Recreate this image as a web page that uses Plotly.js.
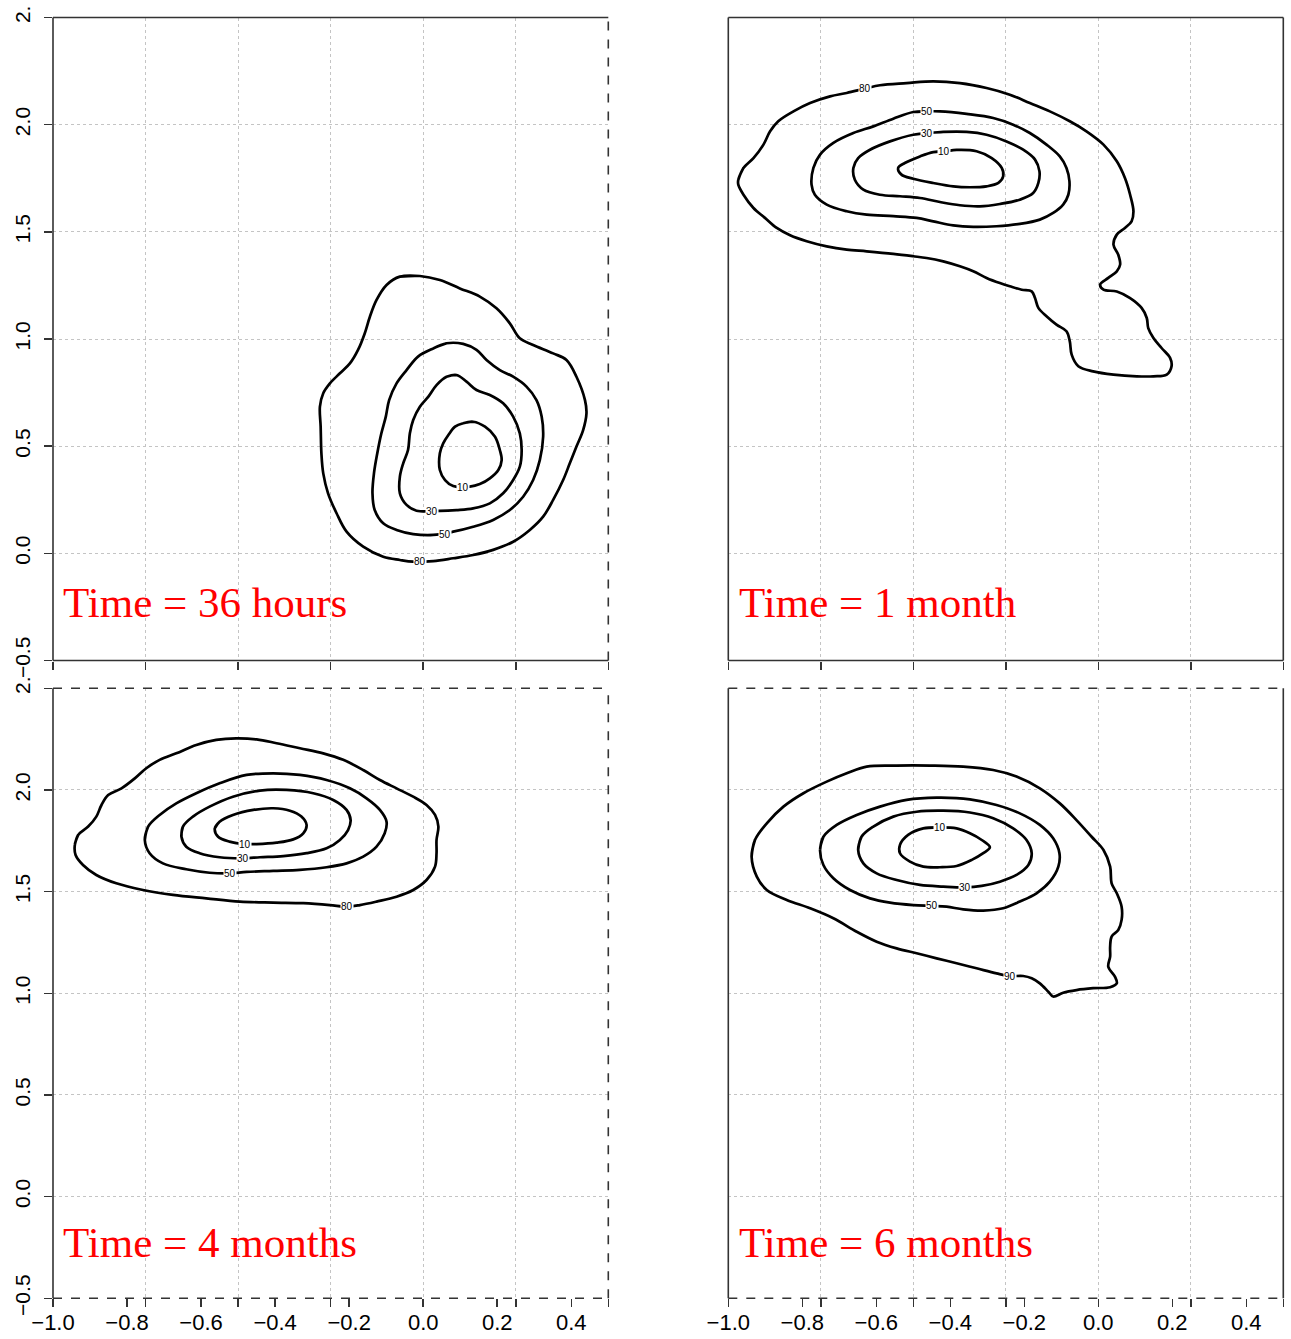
<!DOCTYPE html>
<html><head><meta charset="utf-8">
<script src="https://cdn.plot.ly/plotly-3.0.1.min.js"></script>
<style>html,body{margin:0;padding:0;background:#fff}</style>
</head><body><div id="chart" style="width:1291px;height:1339px"></div>
<script>
// ---------- axis ticks ----------
const xTickVals = [-1.0, -0.8, -0.6, -0.4, -0.2, 0.0, 0.2, 0.4];
const xTickText = ['\u22121.0', '\u22120.8', '\u22120.6', '\u22120.4', '\u22120.2', '0.0', '0.2', '0.4'];
const xGridVals = [-1.0, -0.75, -0.5, -0.25, 0.0, 0.25, 0.5];
const yTickVals = [-0.5, 0.0, 0.5, 1.0, 1.5, 2.0, 2.5];
const yTickText = ['\u22120.5', '0.0', '0.5', '1.0', '1.5', '2.0', '2.'];

// ---------- panel titles ----------
const panelTitles = ['Time = 36 hours', 'Time = 1 month', 'Time = 4 months', 'Time = 6 months'];

// ---------- panel 1: 36 hours ----------
const p1_80_x = [-0.063,-0.009,0.045,0.099,0.153,0.198,0.234,0.261,0.297,0.351,0.387,0.414,0.437,0.441,0.432,0.414,0.396,0.378,0.351,0.324,0.288,0.243,0.189,0.135,0.081,0.027,-0.027,-0.063,-0.108,-0.162,-0.207,-0.234,-0.257,-0.270,-0.275,-0.277,-0.279,-0.270,-0.252,-0.225,-0.198,-0.176,-0.158,-0.144,-0.126,-0.099];
const p1_80_y = [1.291,1.294,1.275,1.236,1.198,1.143,1.073,1.003,0.972,0.933,0.902,0.824,0.715,0.653,0.575,0.498,0.420,0.342,0.249,0.171,0.109,0.054,0.016,-0.008,-0.023,-0.036,-0.039,-0.031,-0.016,0.031,0.101,0.187,0.280,0.373,0.467,0.591,0.684,0.747,0.793,0.840,0.886,0.949,1.026,1.104,1.182,1.252];
const p1_50_x = [0.027,0.063,0.108,0.144,0.171,0.207,0.243,0.279,0.306,0.320,0.324,0.315,0.297,0.270,0.234,0.189,0.135,0.081,0.027,-0.027,-0.072,-0.108,-0.131,-0.137,-0.133,-0.124,-0.113,-0.101,-0.092,-0.072,-0.045,-0.014];
const p1_50_y = [0.956,0.980,0.977,0.949,0.902,0.855,0.824,0.778,0.715,0.638,0.544,0.435,0.342,0.264,0.202,0.156,0.124,0.101,0.086,0.090,0.109,0.140,0.202,0.280,0.373,0.467,0.560,0.638,0.715,0.793,0.855,0.918];
const p1_30_x = [0.063,0.090,0.117,0.144,0.180,0.216,0.243,0.261,0.266,0.261,0.243,0.216,0.180,0.135,0.090,0.045,-0.018,-0.045,-0.063,-0.063,-0.054,-0.041,-0.036,-0.027,-0.009,0.014,0.036];
const p1_30_y = [0.824,0.832,0.801,0.762,0.739,0.700,0.638,0.560,0.482,0.404,0.342,0.280,0.233,0.210,0.202,0.198,0.199,0.226,0.280,0.358,0.420,0.482,0.560,0.622,0.684,0.731,0.785];
const p1_10_x = [0.108,0.135,0.167,0.194,0.207,0.212,0.203,0.180,0.153,0.126,0.081,0.059,0.045,0.045,0.054,0.068,0.086];
const p1_10_y = [0.607,0.614,0.591,0.544,0.482,0.435,0.389,0.350,0.323,0.311,0.314,0.342,0.389,0.467,0.513,0.552,0.591];
const p1_labels = ['10', '30', '50', '80'];
const p1_label_x = [0.108, 0.023, 0.059, -0.009];
const p1_label_y = [0.308, 0.194, 0.086, -0.039];

// ---------- panel 2: 1 month ----------
const p2_80_x = [-0.973,-0.959,-0.932,-0.905,-0.887,-0.865,-0.824,-0.779,-0.725,-0.680,-0.631,-0.590,-0.518,-0.446,-0.374,-0.302,-0.239,-0.185,-0.131,-0.077,-0.032,0.014,0.050,0.072,0.086,0.095,0.090,0.072,0.050,0.041,0.054,0.059,0.050,0.027,0.005,0.014,0.050,0.086,0.117,0.131,0.135,0.149,0.171,0.194,0.198,0.185,0.149,0.104,0.041,-0.014,-0.054,-0.072,-0.077,-0.086,-0.113,-0.140,-0.162,-0.171,-0.180,-0.207,-0.239,-0.266,-0.302,-0.338,-0.374,-0.419,-0.464,-0.500,-0.554,-0.626,-0.680,-0.734,-0.788,-0.833,-0.869,-0.901,-0.932,-0.959,-0.973];
const p2_80_y = [1.743,1.798,1.844,1.907,1.969,2.016,2.062,2.101,2.132,2.148,2.168,2.184,2.194,2.202,2.194,2.171,2.140,2.101,2.062,2.016,1.969,1.907,1.829,1.751,1.673,1.596,1.549,1.518,1.487,1.440,1.393,1.347,1.316,1.285,1.254,1.230,1.222,1.191,1.145,1.098,1.051,1.005,0.958,0.912,0.873,0.834,0.826,0.826,0.834,0.849,0.873,0.927,0.989,1.036,1.067,1.106,1.145,1.191,1.222,1.230,1.246,1.261,1.285,1.316,1.339,1.362,1.378,1.386,1.397,1.409,1.417,1.432,1.456,1.484,1.518,1.565,1.611,1.673,1.720];
const p2_50_x = [-0.500,-0.464,-0.428,-0.356,-0.284,-0.230,-0.185,-0.140,-0.104,-0.086,-0.078,-0.081,-0.095,-0.122,-0.158,-0.212,-0.275,-0.338,-0.392,-0.446,-0.491,-0.554,-0.626,-0.680,-0.734,-0.766,-0.775,-0.770,-0.752,-0.716,-0.662,-0.608,-0.554];
const p2_50_y = [2.059,2.062,2.062,2.050,2.031,2.000,1.961,1.907,1.852,1.798,1.736,1.673,1.627,1.588,1.557,1.537,1.526,1.523,1.530,1.549,1.565,1.573,1.580,1.596,1.627,1.673,1.720,1.798,1.860,1.915,1.961,1.992,2.028];
const p2_30_x = [-0.500,-0.462,-0.419,-0.356,-0.302,-0.248,-0.203,-0.171,-0.159,-0.162,-0.176,-0.212,-0.266,-0.320,-0.374,-0.428,-0.482,-0.536,-0.590,-0.635,-0.658,-0.662,-0.649,-0.617,-0.563];
const p2_30_y = [1.953,1.960,1.966,1.966,1.953,1.922,1.883,1.837,1.782,1.728,1.681,1.650,1.630,1.619,1.624,1.639,1.658,1.666,1.673,1.697,1.743,1.798,1.844,1.883,1.922];
const p2_10_x = [-0.446,-0.417,-0.383,-0.329,-0.288,-0.261,-0.257,-0.270,-0.302,-0.347,-0.392,-0.446,-0.500,-0.532,-0.541,-0.523,-0.482];
const p2_10_y = [1.872,1.875,1.882,1.876,1.844,1.798,1.759,1.728,1.712,1.708,1.712,1.728,1.748,1.767,1.798,1.821,1.852];
const p2_labels = ['10', '30', '50', '80'];
const p2_label_x = [-0.417, -0.462, -0.464, -0.631];
const p2_label_y = [1.875, 1.960, 2.062, 2.168];

// ---------- panel 3: 4 months ----------
const p3_80_x = [-0.941,-0.932,-0.905,-0.883,-0.869,-0.851,-0.815,-0.779,-0.748,-0.712,-0.667,-0.613,-0.559,-0.505,-0.450,-0.396,-0.333,-0.270,-0.216,-0.162,-0.117,-0.072,-0.027,0.009,0.032,0.041,0.036,0.036,0.032,0.009,-0.027,-0.072,-0.126,-0.171,-0.207,-0.252,-0.324,-0.405,-0.495,-0.586,-0.676,-0.757,-0.829,-0.883,-0.919,-0.939];
const p3_80_y = [1.730,1.779,1.820,1.869,1.926,1.975,2.008,2.057,2.107,2.148,2.180,2.221,2.246,2.254,2.249,2.230,2.205,2.180,2.148,2.098,2.049,2.008,1.967,1.926,1.877,1.820,1.754,1.689,1.623,1.557,1.508,1.475,1.451,1.434,1.426,1.434,1.443,1.446,1.451,1.467,1.484,1.508,1.541,1.582,1.631,1.680];
const p3_50_x = [-0.752,-0.743,-0.712,-0.667,-0.613,-0.550,-0.477,-0.405,-0.333,-0.261,-0.198,-0.153,-0.117,-0.099,-0.104,-0.126,-0.162,-0.207,-0.261,-0.333,-0.405,-0.477,-0.523,-0.577,-0.640,-0.703,-0.739];
const p3_50_y = [1.754,1.820,1.877,1.934,1.984,2.033,2.074,2.082,2.074,2.049,2.008,1.959,1.902,1.844,1.787,1.721,1.672,1.639,1.620,1.607,1.602,1.597,1.590,1.593,1.610,1.639,1.689];
const p3_30_x = [-0.653,-0.649,-0.622,-0.577,-0.514,-0.441,-0.369,-0.297,-0.243,-0.207,-0.196,-0.203,-0.225,-0.261,-0.315,-0.378,-0.441,-0.486,-0.550,-0.604,-0.640];
const p3_30_y = [1.770,1.820,1.869,1.918,1.967,1.997,2.000,1.984,1.951,1.902,1.852,1.803,1.754,1.713,1.689,1.675,1.669,1.664,1.669,1.689,1.721];
const p3_10_x = [-0.563,-0.550,-0.514,-0.459,-0.405,-0.360,-0.329,-0.315,-0.324,-0.351,-0.396,-0.450,-0.482,-0.523,-0.554];
const p3_10_y = [1.811,1.844,1.877,1.902,1.910,1.898,1.869,1.828,1.787,1.757,1.741,1.734,1.734,1.746,1.770];
const p3_labels = ['10', '30', '50', '80'];
const p3_label_x = [-0.482, -0.486, -0.523, -0.207];
const p3_label_y = [1.734, 1.664, 1.590, 1.426];

// ---------- panel 4: 6 months ----------
const p4_90_x = [-0.937,-0.928,-0.896,-0.851,-0.797,-0.734,-0.680,-0.626,-0.545,-0.455,-0.365,-0.284,-0.221,-0.158,-0.104,-0.059,-0.018,0.014,0.032,0.036,0.050,0.063,0.063,0.054,0.036,0.032,0.032,0.027,0.045,0.050,0.032,-0.014,-0.059,-0.095,-0.122,-0.135,-0.158,-0.180,-0.203,-0.239,-0.275,-0.329,-0.383,-0.437,-0.491,-0.545,-0.599,-0.653,-0.716,-0.779,-0.842,-0.896,-0.923];
const p4_90_y = [1.672,1.754,1.836,1.918,1.984,2.041,2.082,2.115,2.120,2.120,2.115,2.098,2.066,2.008,1.934,1.852,1.770,1.705,1.623,1.541,1.492,1.426,1.361,1.311,1.279,1.230,1.180,1.131,1.082,1.049,1.030,1.025,1.016,1.003,0.984,1.008,1.049,1.074,1.085,1.085,1.098,1.123,1.148,1.172,1.197,1.221,1.254,1.303,1.369,1.418,1.459,1.508,1.574];
const p4_50_x = [-0.752,-0.743,-0.707,-0.653,-0.590,-0.518,-0.437,-0.347,-0.275,-0.212,-0.158,-0.122,-0.105,-0.108,-0.131,-0.167,-0.212,-0.257,-0.311,-0.365,-0.410,-0.450,-0.500,-0.563,-0.617,-0.671,-0.716,-0.743];
const p4_50_y = [1.705,1.770,1.828,1.877,1.918,1.951,1.962,1.954,1.926,1.885,1.828,1.762,1.689,1.623,1.549,1.492,1.451,1.418,1.407,1.413,1.426,1.430,1.434,1.446,1.467,1.508,1.566,1.631];
const p4_30_x = [-0.649,-0.640,-0.608,-0.554,-0.491,-0.419,-0.347,-0.284,-0.230,-0.194,-0.180,-0.189,-0.221,-0.266,-0.315,-0.360,-0.419,-0.482,-0.545,-0.599,-0.635];
const p4_30_y = [1.705,1.770,1.820,1.869,1.893,1.898,1.889,1.861,1.811,1.754,1.689,1.631,1.582,1.549,1.528,1.521,1.525,1.533,1.557,1.590,1.639];
const p4_10_x = [-0.473,-0.428,-0.383,-0.347,-0.315,-0.293,-0.311,-0.342,-0.383,-0.428,-0.473,-0.509,-0.536,-0.536,-0.514];
const p4_10_y = [1.811,1.816,1.811,1.787,1.754,1.718,1.689,1.656,1.626,1.620,1.623,1.648,1.689,1.730,1.779];
const p4_labels = ['10', '30', '50', '90'];
const p4_label_x = [-0.428, -0.360, -0.450, -0.239];
const p4_label_y = [1.816, 1.521, 1.430, 1.085];

// ---------- assemble ----------
const panels = [
  {xa: 'x',  ya: 'y',  curves: [[p1_80_x,p1_80_y],[p1_50_x,p1_50_y],[p1_30_x,p1_30_y],[p1_10_x,p1_10_y]], labels: p1_labels, lx: p1_label_x, ly: p1_label_y},
  {xa: 'x2', ya: 'y2', curves: [[p2_80_x,p2_80_y],[p2_50_x,p2_50_y],[p2_30_x,p2_30_y],[p2_10_x,p2_10_y]], labels: p2_labels, lx: p2_label_x, ly: p2_label_y},
  {xa: 'x3', ya: 'y3', curves: [[p3_80_x,p3_80_y],[p3_50_x,p3_50_y],[p3_30_x,p3_30_y],[p3_10_x,p3_10_y]], labels: p3_labels, lx: p3_label_x, ly: p3_label_y},
  {xa: 'x4', ya: 'y4', curves: [[p4_90_x,p4_90_y],[p4_50_x,p4_50_y],[p4_30_x,p4_30_y],[p4_10_x,p4_10_y]], labels: p4_labels, lx: p4_label_x, ly: p4_label_y}
];

const close = a => a.concat([a[0], a[1]]);
const traces = [];
const annotations = [];
panels.forEach(p => {
  p.curves.forEach(c => {
    traces.push({type: 'scatter', mode: 'lines', x: close(c[0]), y: close(c[1]),
      xaxis: p.xa, yaxis: p.ya, hoverinfo: 'skip', showlegend: false,
      line: {color: '#000', width: 2.7, shape: 'spline', smoothing: 1.0}});
  });
  p.labels.forEach((t, i) => {
    annotations.push({x: p.lx[i], y: p.ly[i], xref: p.xa, yref: p.ya, text: t, showarrow: false,
      bgcolor: '#fff', borderpad: 0, font: {family: 'Liberation Sans, Arial, sans-serif', size: 10, color: '#000'}});
  });
});
// empty traces to activate the labelled overlay axes
traces.push({type: 'scatter', x: [], y: [], xaxis: 'x5', yaxis: 'y3', showlegend: false});
traces.push({type: 'scatter', x: [], y: [], xaxis: 'x6', yaxis: 'y4', showlegend: false});

const titlePos = [[0.0475, 0.5504], [0.5712, 0.5504], [0.0475, 0.0724], [0.5712, 0.0724]];
panelTitles.forEach((t, i) => {
  annotations.push({xref: 'paper', yref: 'paper', x: titlePos[i][0], y: titlePos[i][1], xanchor: 'left', yanchor: 'middle',
    text: t, showarrow: false, font: {family: 'Liberation Serif, Times New Roman, serif', size: 43, color: '#f00'}});
});

const W = 1291, H = 1339;
const domXL = [53 / W, 608.3 / W], domXR = [728.3 / W, 1283.3 / W];
const domYT = [1 - 660.5 / H, 1 - 17.5 / H], domYB = [1 - 1298.3 / H, 1 - 688.3 / H];

const tickFont = {family: 'Liberation Sans, Arial, sans-serif', size: 22, color: '#000'};
function gridX(domain, anchor) {
  return {domain, anchor, range: [-1, 0.5], tickmode: 'array', tickvals: xGridVals, showticklabels: false,
    ticks: 'outside', ticklen: 8, tickwidth: 1.5, tickcolor: '#333',
    showgrid: true, gridcolor: '#c4c4c4', griddash: 'dot', gridwidth: 1, zeroline: false, showline: false, fixedrange: true};
}
function labelX(over, anchor) {
  return {overlaying: over, anchor, side: 'bottom', range: [-1, 0.5], tickmode: 'array', tickvals: xTickVals, ticktext: xTickText,
    ticks: 'outside', ticklen: 8, tickwidth: 1.5, tickcolor: '#333', tickfont: tickFont, ticklabelstandoff: -4,
    showgrid: false, zeroline: false, showline: false, fixedrange: true};
}
function axY(domain, anchor, labelled) {
  return {domain, anchor, range: [-0.5, 2.5], tickmode: 'array', tickvals: yTickVals, ticktext: yTickText,
    showticklabels: labelled, tickangle: -90, ticks: labelled ? 'outside' : '', ticklen: 8, tickwidth: 1.5, tickcolor: '#333',
    ticklabelstandoff: 6,
    tickfont: {family: 'Liberation Sans, Arial, sans-serif', size: 21, color: '#000'},
    showgrid: true, gridcolor: '#c4c4c4', griddash: 'dot', gridwidth: 1, zeroline: false, showline: false, fixedrange: true};
}

// borders: [top, bottom, left, right] dash styles
const borderStyles = [
  ['solid', 'solid', 'solid', 'dash'],
  ['solid', 'solid', 'solid', 'solid'],
  ['dash', 'dash', 'solid', 'dash'],
  ['dash', 'dash', 'solid', 'solid']
];
const shapes = [];
panels.forEach((p, i) => {
  const xr = p.xa + ' domain', yr = p.ya + ' domain';
  const s = borderStyles[i];
  const segs = [[0, 1, 1, 1], [0, 0, 1, 0], [0, 0, 0, 1], [1, 0, 1, 1]];
  segs.forEach((g, k) => {
    shapes.push({type: 'line', xref: xr, yref: yr, x0: g[0], y0: g[1], x1: g[2], y1: g[3],
      line: {color: '#333', width: 1.6, dash: s[k]}, layer: 'above'});
  });
});

const layout = {
  width: W, height: H, margin: {l: 0, r: 0, t: 0, b: 0},
  paper_bgcolor: '#fff', plot_bgcolor: '#fff', showlegend: false,
  xaxis: gridX(domXL, 'y'), yaxis: axY(domYT, 'x', true),
  xaxis2: gridX(domXR, 'y2'), yaxis2: axY(domYT, 'x2', false),
  xaxis3: gridX(domXL, 'y3'), yaxis3: axY(domYB, 'x3', true),
  xaxis4: gridX(domXR, 'y4'), yaxis4: axY(domYB, 'x4', false),
  xaxis5: labelX('x3', 'y3'), xaxis6: labelX('x4', 'y4'),
  annotations, shapes
};

Plotly.newPlot('chart', traces, layout, {displayModeBar: false, staticPlot: true});
</script></body></html>
